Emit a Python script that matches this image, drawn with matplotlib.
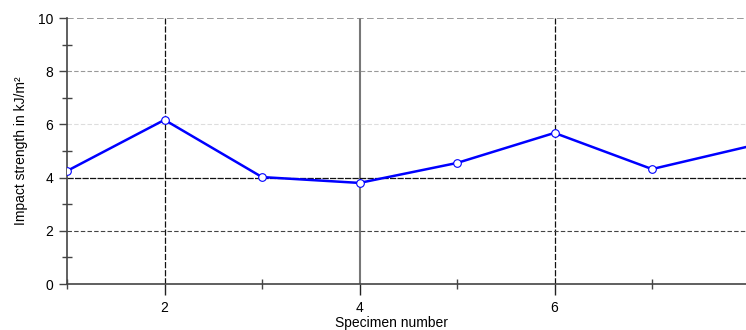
import matplotlib
matplotlib.use("Agg")
import matplotlib.pyplot as plt
from matplotlib.ticker import MultipleLocator

plt.rcParams['font.family'] = ['Liberation Sans', 'DejaVu Sans']

# datos
probeta = [1, 2, 3, 4, 5, 6, 7, 8]
resistencia = [4.25, 6.17, 4.02, 3.80, 4.55, 5.68, 4.32, 5.18]
marcas_x = [2, 4, 6]

fig = plt.figure(figsize=(7.46, 3.30), dpi=100)
ax = fig.add_axes([67 / 746, 46 / 330, 682.5 / 746, 266 / 330])

ax.plot(probeta, resistencia, color='#0000ff', lw=1.8, marker='o',
        markersize=5.5, markerfacecolor='white', markeredgecolor='#0000ff',
        markeredgewidth=0.8, zorder=5)

ax.set_xlim(1, 8)
ax.set_ylim(0, 10)
ax.set_xticks(marcas_x)
ax.xaxis.set_minor_locator(MultipleLocator(1))
ax.yaxis.set_major_locator(MultipleLocator(2))
ax.yaxis.set_minor_locator(MultipleLocator(1))

for s in ['top', 'right']:
    ax.spines[s].set_visible(False)
for s in ['left', 'bottom']:
    ax.spines[s].set_color('#444444')
    ax.spines[s].set_linewidth(1.2)

ax.tick_params(which='major', direction='out', length=6, width=1, color='#444444',
               labelsize=10, pad=4)
ax.tick_params(which='minor', direction='inout', length=7, width=1, color='#444444')
ax.tick_params(axis='x', which='major', length=8, color='#222222')

ax.grid(True, which='major', axis='both')
# estilo de cada linea de la grilla
estilos_y = {0: ('#ffffff', 'none', 0), 2: ('#444444', (0, (4, 2)), 0.8),
             4: ('#111111', (0, (5, 1)), 0.9), 6: ('#dddddd', (0, (4, 2)), 0.8),
             8: ('#999999', (0, (4, 2)), 0.8), 10: ('#888888', (0, (4, 2)), 1.2)}
for valor, linea in zip(ax.get_yticks(), ax.get_ygridlines()):
    col, ls, lw = estilos_y.get(int(round(valor)), ('#888888', (0, (4, 2)), 0.8))
    linea.set_color(col)
    linea.set_linestyle(ls)
    linea.set_linewidth(lw)
estilos_x = {2: ('#111111', (0, (5, 1.5)), 0.9), 4: ('#777777', '-', 1.5),
             6: ('#111111', (0, (5, 1.5)), 0.9)}
for valor, linea in zip(ax.get_xticks(), ax.get_xgridlines()):
    col, ls, lw = estilos_x.get(int(round(valor)), ('#ffffff', 'none', 0))
    linea.set_color(col)
    linea.set_linestyle(ls)
    linea.set_linewidth(lw)
ax.set_axisbelow(True)

ax.set_xlabel("Specimen number", fontsize=10)
ax.xaxis.set_label_coords(0.475, -0.122)
ax.xaxis.label.set_va('top')
ax.set_ylabel("Impact strength in kJ/m²", fontsize=10)
ax.yaxis.set_label_coords(-0.057, 0.5)

fig.savefig("out.png", dpi=100)
